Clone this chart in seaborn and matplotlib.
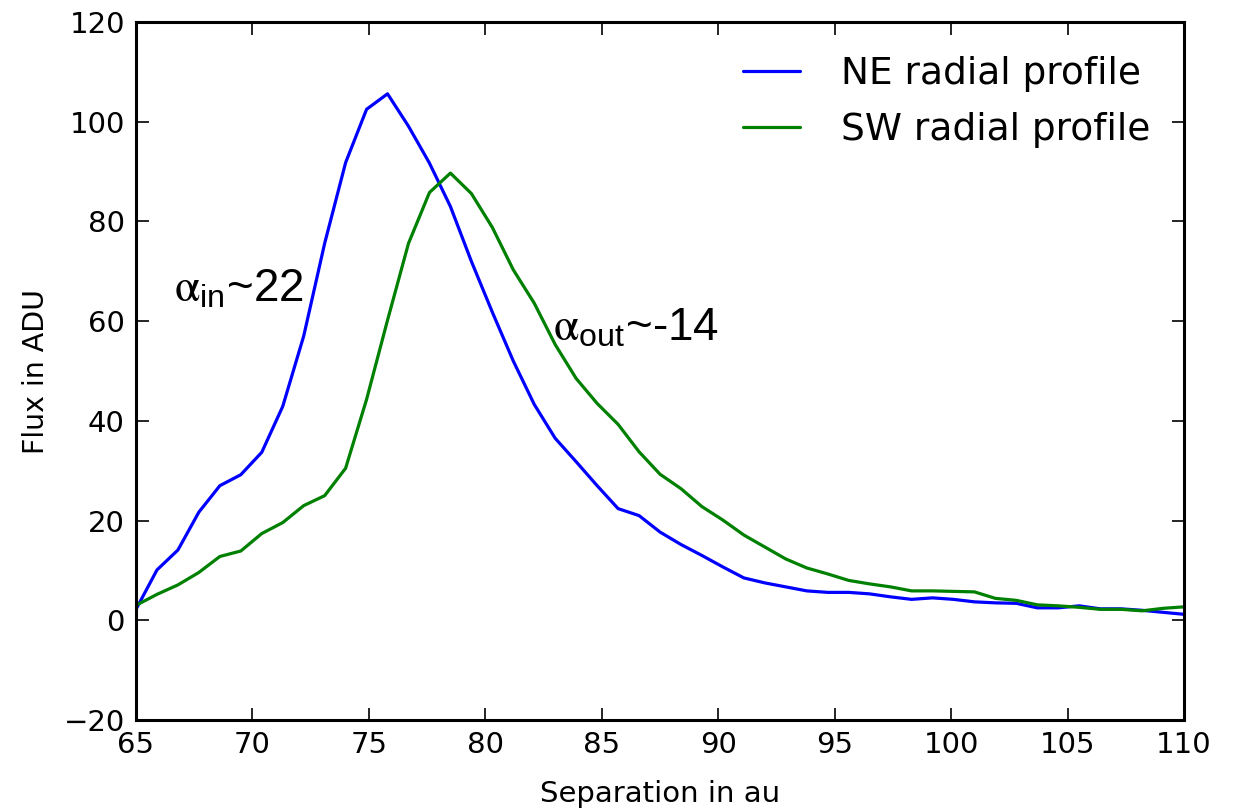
import matplotlib
matplotlib.use("Agg")
import matplotlib.pyplot as plt
import seaborn as sns
import pandas as pd

separation = [65.0, 65.9, 66.8, 67.7, 68.6, 69.5, 70.4, 71.3, 72.2, 73.1,
              74.0, 74.9, 75.8, 76.7, 77.6, 78.5, 79.4, 80.3, 81.2, 82.1,
              83.0, 83.9, 84.8, 85.7, 86.6, 87.5, 88.4, 89.3, 90.2, 91.1,
              92.0, 92.9, 93.8, 94.7, 95.6, 96.5, 97.4, 98.3, 99.2, 100.1,
              101.0, 101.9, 102.8, 103.7, 104.6, 105.5, 106.4, 107.3, 108.2, 109.1,
              110.0]

ne_flux = [2.2, 10.1, 14.1, 21.7, 27.0, 29.2, 33.7, 42.9, 57.0, 75.6,
           91.8, 102.5, 105.6, 99.1, 91.7, 83.0, 72.0, 61.8, 52.0, 43.3,
           36.5, 31.8, 27.0, 22.4, 21.0, 17.7, 15.2, 13.0, 10.7, 8.5,
           7.5, 6.7, 5.9, 5.6, 5.6, 5.3, 4.7, 4.2, 4.5, 4.2,
           3.7, 3.5, 3.4, 2.5, 2.5, 2.9, 2.3, 2.3, 2.0, 1.6,
           1.2]

sw_flux = [3.0, 5.2, 7.1, 9.6, 12.8, 13.9, 17.4, 19.6, 23.0, 25.0,
           30.5, 44.3, 60.2, 75.6, 85.8, 89.7, 85.6, 78.8, 70.3, 63.6,
           55.3, 48.5, 43.5, 39.3, 33.8, 29.3, 26.4, 22.8, 20.1, 17.1,
           14.7, 12.3, 10.5, 9.3, 8.0, 7.3, 6.7, 5.9, 5.9, 5.8,
           5.7, 4.4, 4.0, 3.1, 2.9, 2.6, 2.2, 2.2, 1.9, 2.4,
           2.7]

labels = ["NE radial profile", "SW radial profile"]
colors = ["#0000ff", "#008000"]

df = pd.DataFrame({
    "sep": separation * 2,
    "flux": ne_flux + sw_flux,
    "profile": [labels[0]] * len(separation) + [labels[1]] * len(separation),
})

sns.set_style("ticks")
plt.rcParams["font.family"] = ["DejaVu Sans"]
plt.rcParams["text.color"] = "black"
plt.rcParams["axes.labelcolor"] = "black"
plt.rcParams["xtick.color"] = "black"
plt.rcParams["ytick.color"] = "black"

fig = plt.figure(figsize=(12.33, 8.10), dpi=100)
ax = fig.add_axes([0.1103, 0.1111, 0.8500, 0.8617])

sns.lineplot(data=df, x="sep", y="flux", hue="profile", palette=colors,
             linewidth=2.3, ax=ax, estimator=None, sort=False)

ax.set_xlim(65, 110)
ax.set_ylim(-20, 120)
ax.set_xticks(list(range(65, 111, 5)))
ax.set_yticks(list(range(-20, 121, 20)))
ax.set_xlabel("Separation in au", fontsize=21, labelpad=15, color="black")
ax.set_ylabel("Flux in ADU", fontsize=20.5, labelpad=10, color="black")
ax.tick_params(direction="in", length=9, width=1.2, labelsize=21,
               top=True, right=True, pad=8, color="black", labelcolor="black")
for s in ax.spines.values():
    s.set_linewidth(2.2)
    s.set_color("black")
    s.set_visible(True)

leg = ax.legend(loc="upper right", frameon=False, fontsize=27,
                handlelength=1.5, handletextpad=1.1, labelspacing=0.55,
                borderaxespad=0.5)
for line in leg.get_lines():
    line.set_linewidth(2.3)
for t in leg.get_texts():
    t.set_color("black")

ax.text(66.65, 64.0, r"$\mathrm{\alpha}_{\mathregular{in}}$~22", fontsize=33,
        family="Liberation Sans", math_fontfamily="stix", va="baseline",
        color="black")
ax.text(82.9, 56.2, r"$\mathrm{\alpha}_{\mathregular{out}}$~-14", fontsize=33,
        family="Liberation Sans", math_fontfamily="stix", va="baseline",
        color="black")

fig.savefig("out.png", dpi=100)
